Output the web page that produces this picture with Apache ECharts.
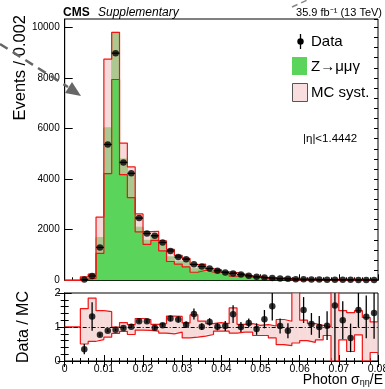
<!DOCTYPE html>
<html>
<head>
<meta charset="utf-8">
<script src="https://cdn.jsdelivr.net/npm/echarts@6/dist/echarts.min.js"></script>
<style>
html, body { margin: 0; padding: 0; background: #fff; }
#chart { width: 385px; height: 389px; }
</style>
</head>
<body>
<div id="chart"></div>
<script>
// binning of photon sigma/E
const binWidth = 0.002
const xRange = [0, 0.08]
const xTickStep = 0.01

// events per bin (data) and Z->mumugamma MC prediction
const dataCounts = [0, 0, 30, 170, 1300, 5370, 8980, 4660, 4230, 2460,
  1850, 1760, 1490, 1160, 920, 830, 630, 550, 470, 375,
  310, 270, 230, 178, 138, 112, 95, 72, 58, 46,
  42, 36, 30, 26, 22, 20, 17, 15, 13, 12]
const mcCounts = [0, 0, 86, 130, 1690, 6030, 9800, 4800, 4190, 2100,
  1580, 1795, 1420, 928, 754, 776, 456, 545, 409, 371,
  301, 196, 230, 159, 147, 91, 59, 70, 65, 20,
  28, 33, 30, 25, 13.5, 16.7, 25, 10, 10, 8.5]

// MC syst. band, relative to the MC prediction
const systLowRel = [1, 1, 0.50, 0.58, 0.63, 0.70, 0.81, 0.87, 0.78, 0.91,
  0.90, 0.88, 0.82, 0.80, 0.85, 0.68, 0.70, 0.73, 0.78, 0.88,
  0.88, 0.82, 0.85, 0.85, 0.75, 0.75, 0.68, 0.48, 0.45, 0.53,
  0.60, 0.55, 0.62, 0.75, 0.0, 0.62, 0.28, 0.77, 0.0, 0.25]
const systHighRel = [1, 1, 1.54, 1.85, 1.48, 1.45, 1.00, 1.13, 1.07, 1.25,
  1.22, 1.08, 1.10, 1.32, 1.31, 1.12, 1.36, 1.17, 1.10, 1.13,
  1.10, 1.56, 1.08, 1.10, 1.05, 1.07, 1.03, 1.22, 1.17, 2.5,
  1.20, 1.10, 1.05, 1.00, 2.5, 1.48, 1.42, 1.48, 1.28, 1.15]

// uncertainty on data / MC
const ratioErrors = [null, null, 0.15, 0.42, 0.05, 0.04, 0.03, 0.04, 0.04, 0.05,
  0.05, 0.06, 0.06, 0.08, 0.09, 0.09, 0.16, 0.10, 0.11, 0.11,
  0.15, 0.26, 0.15, 0.13, 0.17, 0.27, 0.42, 0.22, 0.22, null,
  0.38, 0.32, 0.32, 0.42, 1.65, 0.56, 0.42, 0.52, 0.63, 0.76]

const yMainMax = 10330
const yMainStep = 2000
const yMainMinorStep = 400
const ratioMax = 2

const FONT = '"Liberation Sans", Arial, sans-serif'
const GREEN = '#5ad45a'
const RED = '#f01414'
const PINK = 'rgba(240,190,190,0.55)'

const binLow = dataCounts.map((_, i) => +(xRange[0] + i * binWidth).toFixed(4))
const binMid = binLow.map(x => +(x + binWidth / 2).toFixed(4))
const stepData = vals => binLow.map((x, i) => [x, vals[i]]).concat([[xRange[1], vals[vals.length - 1]]])

const mcLow = mcCounts.map((v, i) => v * systLowRel[i])
const mcHigh = mcCounts.map((v, i) => v * systHighRel[i])
const ratio = dataCounts.map((d, i) => (d > 0 && mcCounts[i] > 0) ? d / mcCounts[i] : null)

const dataPts = []
const ratioPts = []
binMid.forEach((x, i) => {
  if (dataCounts[i] > 0) dataPts.push([x, dataCounts[i]])
  if (ratio[i] != null && ratioErrors[i] != null) ratioPts.push([x, ratio[i], ratioErrors[i]])
})

function bandItem(yMax) {
  return (params, api) => {
    const x0 = api.value(0)
    const lo = Math.max(0, Math.min(yMax, api.value(1)))
    const hi = Math.max(0, Math.min(yMax, api.value(2)))
    const a = api.coord([x0, hi])
    const b = api.coord([x0 + binWidth, lo])
    return {
      type: 'rect',
      shape: { x: a[0], y: a[1], width: b[0] - a[0], height: Math.max(b[1] - a[1], 0) },
      style: { fill: PINK }
    }
  }
}

function hBarItem(params, api) {
  const a = api.coord([api.value(0) - binWidth / 2, api.value(1)])
  const b = api.coord([api.value(0) + binWidth / 2, api.value(1)])
  return { type: 'line', shape: { x1: a[0], y1: a[1], x2: b[0], y2: b[1] }, style: { stroke: '#000', lineWidth: 1.3 } }
}

function vBarItem(params, api) {
  const y = api.value(1), e = api.value(2)
  const a = api.coord([api.value(0), Math.min(ratioMax, y + e)])
  const b = api.coord([api.value(0), Math.max(0, y - e)])
  return { type: 'line', shape: { x1: a[0], y1: a[1], x2: b[0], y2: b[1] }, style: { stroke: '#000', lineWidth: 1.3 } }
}

const tickLine = { lineStyle: { color: '#000', width: 1 } }
const baseX = {
  type: 'value', min: xRange[0], max: xRange[1], interval: xTickStep,
  axisLine: { show: true, lineStyle: { color: '#000' } },
  axisTick: { inside: true, length: 6, ...tickLine },
  minorTick: { show: true, splitNumber: 5, length: 3, ...tickLine },
  splitLine: { show: false }, minorSplitLine: { show: false },
  axisLabel: { show: false }
}

const chart = echarts.init(document.getElementById('chart'))
chart.setOption({
  animation: false,
  backgroundColor: '#fff',
  textStyle: { fontFamily: FONT },
  grid: [
    { left: 64.7, right: 7, top: 19, height: 261.3, show: true, borderColor: '#000', borderWidth: 1, outerBoundsMode: 'none' },
    { left: 64.7, right: 7, top: 293, height: 68, show: true, borderColor: '#000', borderWidth: 1, outerBoundsMode: 'none' }
  ],
  xAxis: [
    { ...baseX, gridIndex: 0 },
    {
      ...baseX, gridIndex: 1,
      axisLabel: {
        show: true, fontSize: 10.5, color: '#000', margin: 3, fontFamily: FONT,
        formatter: v => v === 0 ? '0' : v.toFixed(2)
      }
    },
    { ...baseX, gridIndex: 1, position: 'top' }
  ],
  yAxis: [
    {
      type: 'value', gridIndex: 0, min: 0, max: yMainMax, interval: yMainStep,
      axisLine: { show: true, lineStyle: { color: '#000' } },
      axisTick: { inside: true, length: 8, ...tickLine },
      splitLine: { show: false },
      axisLabel: { fontSize: 10, color: '#000', margin: 5, fontFamily: FONT, showMaxLabel: false, formatter: v => String(Math.round(v)) }
    },
    {
      type: 'value', gridIndex: 0, min: 0, max: yMainMax, interval: yMainMinorStep,
      axisLine: { show: false },
      axisTick: { inside: true, length: 4, ...tickLine },
      splitLine: { show: false },
      axisLabel: { show: false }
    },
    {
      type: 'value', gridIndex: 1, min: 0, max: ratioMax, interval: 1,
      axisLine: { show: true, lineStyle: { color: '#000' } },
      axisTick: { inside: true, length: 7, ...tickLine },
      minorTick: { show: true, splitNumber: 5, length: 4, ...tickLine },
      splitLine: { show: false }, minorSplitLine: { show: false },
      axisLabel: { fontSize: 11, color: '#000', margin: 4, fontFamily: FONT }
    },
    {
      type: 'value', gridIndex: 1, min: 0, max: ratioMax, interval: 1, position: 'right',
      axisLine: { show: true, lineStyle: { color: '#000' } },
      axisTick: { inside: true, length: 7, ...tickLine },
      minorTick: { show: true, splitNumber: 5, length: 4, ...tickLine },
      splitLine: { show: false }, minorSplitLine: { show: false },
      axisLabel: { show: false }
    }
  ],
  series: [
    // MC histogram
    {
      type: 'line', xAxisIndex: 0, yAxisIndex: 0, step: 'end', symbol: 'none', z: 1,
      data: stepData(mcCounts),
      lineStyle: { color: GREEN, width: 1 },
      areaStyle: { color: GREEN, opacity: 1 }
    },
    // syst band, main panel
    {
      type: 'custom', xAxisIndex: 0, yAxisIndex: 0, z: 2,
      renderItem: bandItem(yMainMax),
      data: binLow.map((x, i) => [x, mcLow[i], mcHigh[i]])
    },
    {
      type: 'line', xAxisIndex: 0, yAxisIndex: 0, step: 'end', symbol: 'none', z: 3,
      data: stepData(mcLow), lineStyle: { color: RED, width: 1.2 }
    },
    {
      type: 'line', xAxisIndex: 0, yAxisIndex: 0, step: 'end', symbol: 'none', z: 3,
      data: stepData(mcHigh), lineStyle: { color: RED, width: 1.2 }
    },
    // data points
    {
      type: 'custom', xAxisIndex: 0, yAxisIndex: 0, z: 5,
      renderItem: hBarItem, data: dataPts
    },
    {
      type: 'scatter', xAxisIndex: 0, yAxisIndex: 0, z: 6,
      data: dataPts, symbol: 'circle', symbolSize: 6.5,
      itemStyle: { color: '#000' }
    },
    // ratio panel band
    {
      type: 'custom', xAxisIndex: 1, yAxisIndex: 2, z: 2,
      renderItem: bandItem(ratioMax),
      data: binLow.map((x, i) => [x, systLowRel[i], systHighRel[i]])
    },
    {
      type: 'line', xAxisIndex: 1, yAxisIndex: 2, step: 'end', symbol: 'none', z: 3,
      data: stepData(systLowRel), lineStyle: { color: RED, width: 1.2 }
    },
    {
      type: 'line', xAxisIndex: 1, yAxisIndex: 2, step: 'end', symbol: 'none', z: 3,
      data: stepData(systHighRel), lineStyle: { color: RED, width: 1.2 },
      markLine: {
        silent: true, symbol: 'none', label: { show: false }, z: 4,
        lineStyle: { color: '#000', width: 1, type: [4, 2, 1, 2] },
        data: [{ yAxis: 1 }]
      }
    },
    {
      type: 'custom', xAxisIndex: 1, yAxisIndex: 2, z: 5,
      renderItem: vBarItem, data: ratioPts
    },
    {
      type: 'scatter', xAxisIndex: 1, yAxisIndex: 2, z: 6,
      data: ratioPts.map(p => [p[0], p[1]]), symbol: 'circle', symbolSize: 6.5,
      itemStyle: { color: '#000' }
    }
  ],
  graphic: [
    { type: 'text', x: 63, y: 13, style: { text: 'CMS', font: 'bold 12px ' + FONT, fill: '#000', textVerticalAlign: 'middle' } },
    { type: 'text', x: 98, y: 13, style: { text: 'Supplementary', font: 'italic 12px ' + FONT, fill: '#000', textVerticalAlign: 'middle' } },
    { type: 'text', x: 382, y: 13, style: { text: '35.9 fb\u207B\u00B9 (13 TeV)', font: '11px ' + FONT, fill: '#000', textAlign: 'right', textVerticalAlign: 'middle' } },
    { type: 'text', x: 20, y: 15, rotation: Math.PI / 2, style: { text: 'Events / 0.002', font: '16.5px ' + FONT, fill: '#000', textAlign: 'right', textVerticalAlign: 'middle' } },
    { type: 'text', x: 24, y: 327, rotation: Math.PI / 2, style: { text: 'Data / MC', font: '16px ' + FONT, fill: '#000', textAlign: 'center', textVerticalAlign: 'middle' } },
    {
      type: 'text', x: 383, y: 380,
      style: {
        text: '{a|Photon σ}{s|ηη}{a|/E}', textAlign: 'right', textVerticalAlign: 'middle',
        rich: { a: { fontSize: 14, fontFamily: FONT, color: '#000' }, s: { fontSize: 9, fontFamily: FONT, color: '#000', verticalAlign: 'bottom' } }
      }
    },
    { type: 'text', x: 303, y: 139, style: { text: '|η|<1.4442', font: '11.5px ' + FONT, fill: '#000', textVerticalAlign: 'middle' } },
    // legend
    { type: 'line', shape: { x1: 300.5, y1: 34, x2: 300.5, y2: 49 }, style: { stroke: '#000', lineWidth: 1.3 } },
    { type: 'circle', shape: { cx: 300.5, cy: 41.5, r: 3.2 }, style: { fill: '#000' } },
    { type: 'text', x: 311, y: 42, style: { text: 'Data', font: '15px ' + FONT, fill: '#000', textVerticalAlign: 'middle' } },
    { type: 'rect', shape: { x: 292, y: 57, width: 15, height: 18 }, style: { fill: GREEN } },
    { type: 'text', x: 311, y: 67, style: { text: 'Z→μμγ', font: '15px ' + FONT, fill: '#000', textVerticalAlign: 'middle' } },
    { type: 'rect', shape: { x: 292.5, y: 83.5, width: 15, height: 18 }, style: { fill: '#f8dede', stroke: '#555', lineWidth: 1 } },
    { type: 'text', x: 311, y: 93, style: { text: 'MC syst.', font: '15px ' + FONT, fill: '#000', textVerticalAlign: 'middle' } },
    // grey dashed pointer drawn over the figure
    { type: 'line', z: 100, shape: { x1: 0, y1: 44, x2: 68, y2: 87 }, style: { stroke: '#666', lineWidth: 2.5, lineDash: [9, 6] } },
    { type: 'polygon', z: 100, shape: { points: [[81, 96], [65, 93], [72, 82]] }, style: { fill: '#666' } },
    { type: 'line', z: 100, shape: { x1: 292, y1: 7, x2: 312, y2: -2 }, style: { stroke: '#888', lineWidth: 1.5, lineDash: [6, 4] } }
  ]
})
</script>
</body>
</html>
